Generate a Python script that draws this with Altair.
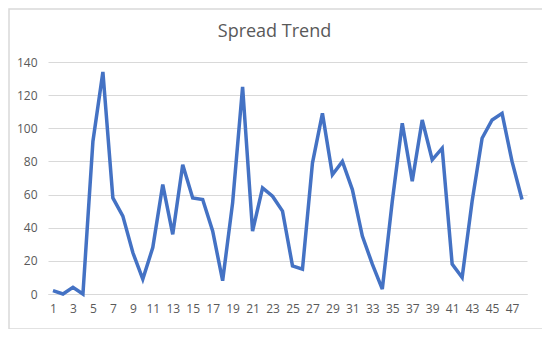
import altair as alt
import pandas as pd

days = list(range(1, 49))
spread = [2, 0, 4, 0, 92, 134, 58, 47, 25, 9, 28, 66,
          36, 78, 58, 57, 38, 8, 55, 125, 38, 64, 59, 50,
          17, 15, 79, 109, 72, 80, 63, 35, 18, 3, 56, 103,
          68, 105, 81, 88, 18, 10, 56, 94, 105, 109, 80, 57]
x_ticks = list(range(1, 48, 2))
y_ticks = [0, 20, 40, 60, 80, 100, 120, 140]
title_text = "Spread Trend"

df = pd.DataFrame({"day": days, "spread": spread})

FONT = "Open Sans"
GRID = "#d9d9d9"
TXT = "#595959"

line = alt.Chart(df).mark_line(color="#4472C4", strokeWidth=3.5, strokeJoin="miter").encode(
    x=alt.X("day:Q",
            scale=alt.Scale(domain=[0.5, 48.5], nice=False, zero=False),
            axis=alt.Axis(values=x_ticks, format="d", grid=False, ticks=False,
                          domain=True, domainColor=GRID, labelColor=TXT,
                          labelFont=FONT, labelFontSize=12, labelPadding=9,
                          title=None, labelOverlap=False)),
    y=alt.Y("spread:Q",
            scale=alt.Scale(domain=[0, 140], nice=False),
            axis=alt.Axis(values=y_ticks, grid=True, gridColor=GRID, ticks=False,
                          domain=False, labelColor=TXT, labelFont=FONT,
                          labelFontSize=12, labelPadding=11, title=None)),
)

border = alt.Chart(alt.Data(values=[{}])).mark_rect(
    fillOpacity=0, stroke=GRID, strokeWidth=1.5
).encode(
    x=alt.value(-39), x2=alt.value(495), y=alt.value(-53), y2=alt.value(267)
)

title = alt.Chart(alt.Data(values=[{"t": title_text}])).mark_text(
    font=FONT, fontSize=18, color=TXT, baseline="middle", align="center"
).encode(
    x=alt.value(226.5), y=alt.value(-30), text="t:N"
)

chart = alt.layer(border, line, title).properties(
    width=479, height=232,
    padding={"left": 40, "top": 54, "right": 15, "bottom": 35},
    autosize=alt.AutoSizeParams(type="none"),
).configure_view(stroke=None)

chart.save("out.html", embed_options={"renderer": "svg", "actions": False})
